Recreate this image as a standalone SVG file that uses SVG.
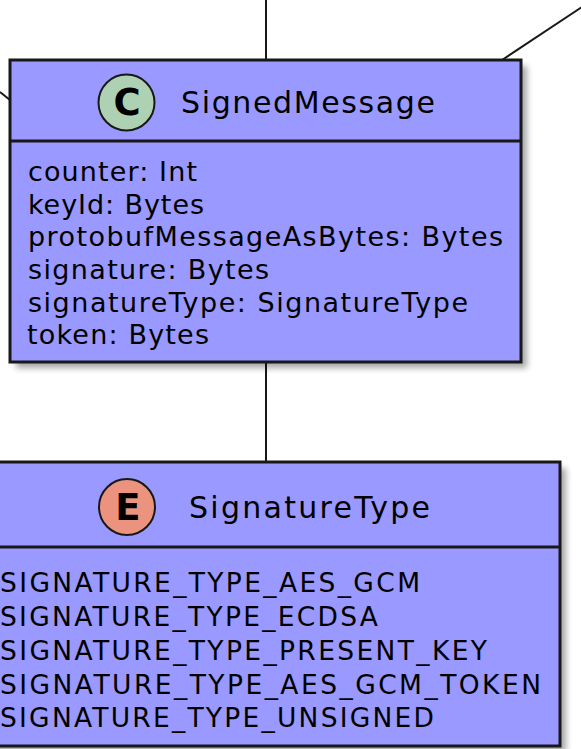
<svg xmlns="http://www.w3.org/2000/svg" width="581" height="749" viewBox="0 0 581 749">
<defs>
<filter id="sh" x="-10%" y="-10%" width="130%" height="130%">
<feGaussianBlur stdDeviation="3"/>
</filter>
<style>
.box{fill:#9999FF;stroke:#181818;stroke-width:3}
.shadow{fill:#000;opacity:0.35;filter:url(#sh)}
.edge{stroke:#181818;stroke-width:2;fill:none}
.name{font-family:"DejaVu Sans",sans-serif;font-size:30px;fill:#000}
.attr{font-family:"DejaVu Sans",sans-serif;font-size:27px;fill:#000}
.item{font-family:"DejaVu Sans",sans-serif;font-size:26.5px;fill:#000}
.glyph{font-family:"DejaVu Sans",sans-serif;font-size:37px;font-weight:bold;fill:#000;text-anchor:middle}
</style>
</defs>
<rect width="581" height="749" fill="#fff"/>
<g id="connectors">
<line class="edge" x1="266" y1="0" x2="266" y2="60"/>
<line class="edge" x1="582" y1="7" x2="502" y2="60"/>
<line class="edge" x1="0" y1="92" x2="10" y2="100"/>
<line class="edge" x1="266" y1="362" x2="266" y2="462"/>
</g>
<g id="SignedMessage">
<rect class="shadow" x="16" y="66" width="511" height="302"/>
<rect class="box" x="10" y="60" width="511" height="302"/>
<line class="edge" x1="10" y1="141" x2="521" y2="141" style="stroke-width:3"/>
<circle cx="126.5" cy="102.5" r="28" fill="#ADD1B2" stroke="#181818" stroke-width="2"/>
<text class="glyph" x="127" y="115">C</text>
<text class="name" x="181" y="113" textLength="254" lengthAdjust="spacing">SignedMessage</text>
<text class="attr" x="28" y="181" textLength="169" lengthAdjust="spacing">counter: Int</text>
<text class="attr" x="28" y="214" textLength="176" lengthAdjust="spacing">keyId: Bytes</text>
<text class="attr" x="28" y="246" textLength="475" lengthAdjust="spacing">protobufMessageAsBytes: Bytes</text>
<text class="attr" x="28" y="279" textLength="241" lengthAdjust="spacing">signature: Bytes</text>
<text class="attr" x="28" y="312" textLength="440" lengthAdjust="spacing">signatureType: SignatureType</text>
<text class="attr" x="27" y="344" textLength="182" lengthAdjust="spacing">token: Bytes</text>
</g>
<g id="SignatureType">
<rect class="shadow" x="-24" y="468" width="590" height="284"/>
<rect class="box" x="-30" y="462" width="590" height="284"/>
<line class="edge" x1="-30" y1="547" x2="560" y2="547" style="stroke-width:3"/>
<circle cx="127" cy="507" r="28" fill="#EB937F" stroke="#181818" stroke-width="2"/>
<text class="glyph" x="128" y="520">E</text>
<text class="name" x="189" y="518" textLength="241" lengthAdjust="spacing">SignatureType</text>
<text class="item" x="0" y="592" textLength="420" lengthAdjust="spacing">SIGNATURE_TYPE_AES_GCM</text>
<text class="item" x="0" y="626" textLength="378" lengthAdjust="spacing">SIGNATURE_TYPE_ECDSA</text>
<text class="item" x="0" y="660" textLength="487" lengthAdjust="spacing">SIGNATURE_TYPE_PRESENT_KEY</text>
<text class="item" x="0" y="694" textLength="541" lengthAdjust="spacing">SIGNATURE_TYPE_AES_GCM_TOKEN</text>
<text class="item" x="0" y="727" textLength="434" lengthAdjust="spacing">SIGNATURE_TYPE_UNSIGNED</text>
</g>
</svg>
